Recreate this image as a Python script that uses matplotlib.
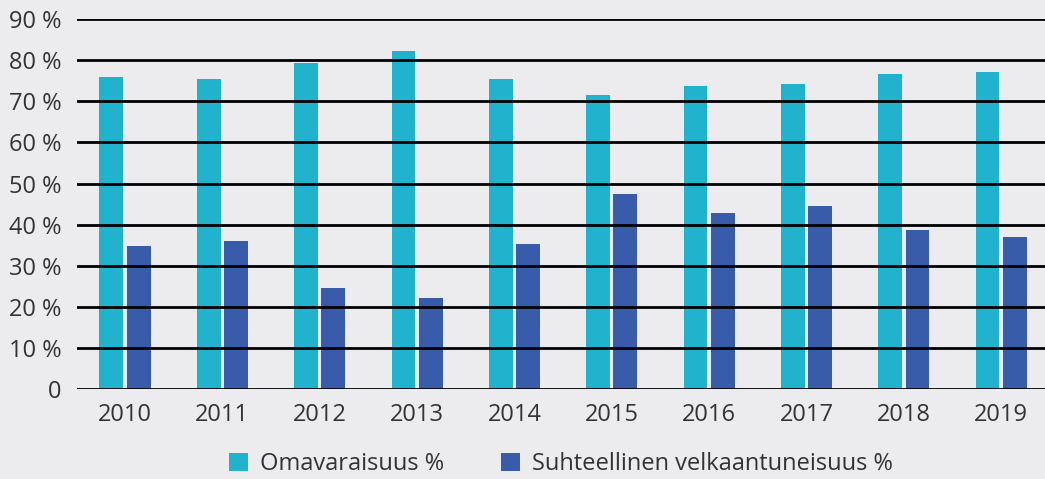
import matplotlib.pyplot as plt
import numpy as np

years = ["2010", "2011", "2012", "2013", "2014", "2015", "2016", "2017", "2018", "2019"]
omavaraisuus = [75.9, 75.4, 79.3, 82.2, 75.4, 71.5, 73.7, 74.2, 76.6, 77.1]
velkaantuneisuus = [34.8, 36.0, 24.6, 22.1, 35.3, 47.4, 42.8, 44.5, 38.7, 37.0]
yticks = [0, 10, 20, 30, 40, 50, 60, 70, 80, 90]
ytick_labels = ["0"] + [f"{v} %" for v in yticks[1:]]

plt.rcParams['font.family'] = ['Open Sans', 'DejaVu Sans']
bg = "#ECECEE"
text_col = "#333333"

fig = plt.figure(figsize=(10.45, 4.79), dpi=100, facecolor=bg)
ax = fig.add_axes([0.0737, 0.188, 0.9263, 0.772])
ax.set_facecolor(bg)

x = np.arange(len(years))
w = 0.245
ax.bar(x - 0.14, omavaraisuus, w, color="#21B2CD", label="Omavaraisuus %", zorder=1)
ax.bar(x + 0.14, velkaantuneisuus, w, color="#385CAA", label="Suhteellinen velkaantuneisuus %", zorder=1)

for v in yticks:
    ax.axhline(v, color="black", lw=2.0, zorder=3)

ax.set_xlim(-0.493, 9.45)
ax.set_ylim(0, 90)
ax.set_yticks(yticks)
ax.set_yticklabels(ytick_labels)
ax.set_xticks(x)
ax.set_xticklabels(years)
ax.tick_params(axis='both', length=0, labelsize=17, colors=text_col)
ax.tick_params(axis='y', pad=11)
ax.tick_params(axis='x', pad=10)
for s in ax.spines.values():
    s.set_visible(False)

leg = ax.legend(loc="center", bbox_to_anchor=(0.5, -0.203), ncol=2, frameon=False,
                fontsize=17, handlelength=0.8, handleheight=0.8, columnspacing=2.4,
                handletextpad=0.5, borderaxespad=0)
for t in leg.get_texts():
    t.set_color(text_col)

fig.savefig("out.png", dpi=100, facecolor=bg)
